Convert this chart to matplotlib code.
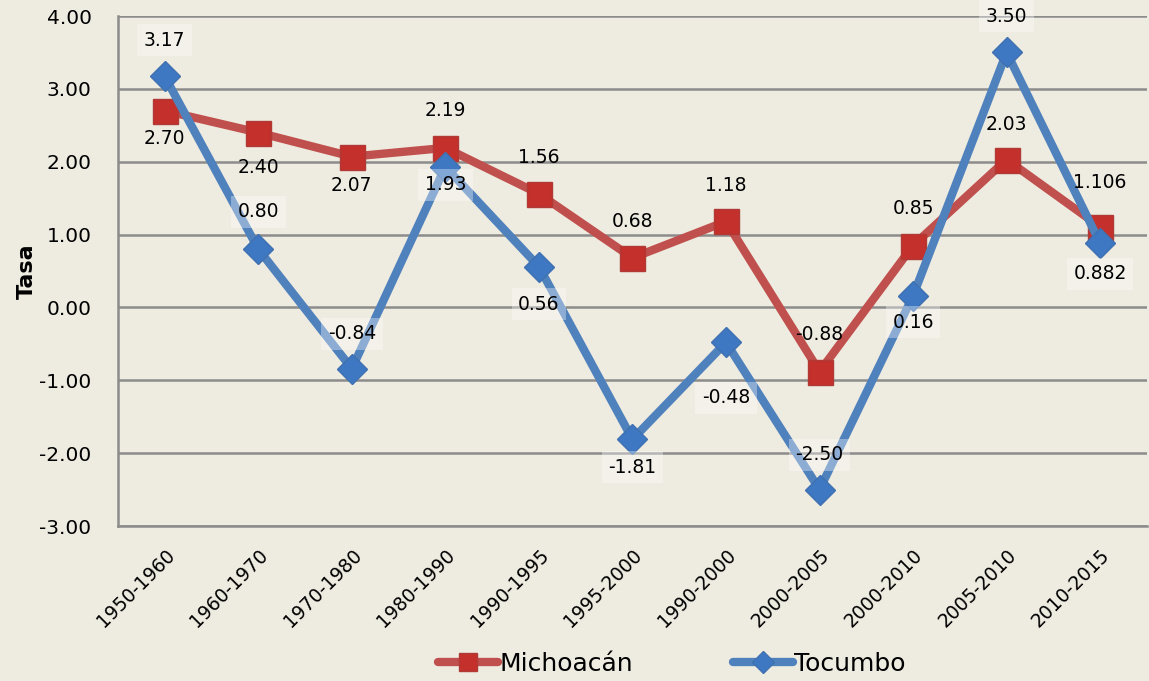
import matplotlib.pyplot as plt

categories = ["1950-1960", "1960-1970", "1970-1980", "1980-1990", "1990-1995",
              "1995-2000", "1990-2000", "2000-2005", "2000-2010", "2005-2010", "2010-2015"]
michoacan = [2.70, 2.40, 2.07, 2.19, 1.56, 0.68, 1.18, -0.88, 0.85, 2.03, 1.106]
tocumbo = [3.17, 0.80, -0.84, 1.93, 0.56, -1.81, -0.48, -2.50, 0.16, 3.50, 0.882]
mich_labels = ["2.70", "2.40", "2.07", "2.19", "1.56", "0.68", "1.18", "-0.88", "0.85", "2.03", "1.106"]
toc_labels = ["3.17", "0.80", "-0.84", "1.93", "0.56", "-1.81", "-0.48", "-2.50", "0.16", "3.50", "0.882"]
# label offsets in points (positive = above, negative = below)
mich_off = [-20, -25, -21, 27, 26, 26, 26, 27, 27, 25, 32]
toc_off = [26, 27, 25, -13, -27, -20, -40, 25, -19, 26, -22]

bg = "#EEEBE0"
red = "#C0504D"
blue = "#4F81BD"

plt.rcParams['font.family'] = ['DejaVu Sans']
fig = plt.figure(figsize=(11.49, 6.81), dpi=100, facecolor=bg)
ax = fig.add_axes([0.1027, 0.2276, 0.8955, 0.7489], facecolor=bg)

x = list(range(len(categories)))
ax.plot(x, michoacan, color=red, lw=6, marker="s", ms=18, mfc="#C4302B",
        mec="#B03A36", mew=1, label="Michoacán", zorder=3, solid_capstyle="round")
ax.plot(x, tocumbo, color=blue, lw=6, marker="D", ms=15, mfc="#3F78C2",
        mec="#3F70B0", mew=1, label="Tocumbo", zorder=4, solid_capstyle="round")

def lab(xi, y, t, off, box):
    kw = {}
    if box:
        kw['bbox'] = dict(boxstyle="square,pad=0.35", fc="white", ec="none", alpha=0.35)
    ax.annotate(t, (xi, y), xytext=(0, off), textcoords="offset points",
                ha="center", va="center", fontsize=13.5, color="black", zorder=5, **kw)

for xi, y, t, o in zip(x, michoacan, mich_labels, mich_off):
    lab(xi, y, t, o, False)
for xi, y, t, o in zip(x, tocumbo, toc_labels, toc_off):
    lab(xi, y, t, o, True)

ax.set_xlim(-0.5, 10.5)
ax.set_ylim(-3, 4)
ax.set_yticks([-3, -2, -1, 0, 1, 2, 3, 4])
ax.set_yticklabels([f"{v:.2f}" for v in [-3, -2, -1, 0, 1, 2, 3, 4]], fontsize=14.5)
ax.set_xticks(x)
ax.set_xticklabels(categories, rotation=45, ha="right", rotation_mode="anchor", fontsize=13.5)
ax.tick_params(axis="y", length=0, pad=19)
ax.tick_params(axis="x", length=0, pad=14)
ax.grid(axis="y", color="#8C8C8C", lw=1.8)
ax.set_axisbelow(True)
for s in ["top", "right"]:
    ax.spines[s].set_visible(False)
ax.spines["left"].set_color("#8C8C8C")
ax.spines["left"].set_linewidth(1.8)
ax.spines["bottom"].set_color("#8C8C8C")
ax.spines["bottom"].set_linewidth(1.8)
ax.set_ylabel("Tasa", fontsize=16, fontweight="bold", labelpad=2)

fig.legend(loc="lower center", bbox_to_anchor=(0.585, -0.025), ncol=2, frameon=False,
           fontsize=18, handlelength=2.4, columnspacing=4.0, handletextpad=0.05,
           markerscale=0.75)

fig.savefig("out.png", dpi=100, facecolor=bg)
